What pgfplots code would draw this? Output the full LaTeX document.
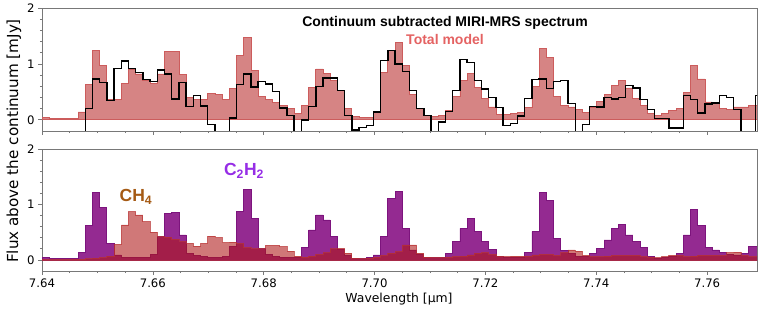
\documentclass[border=0pt]{standalone}
\usepackage{fontspec}
\setmainfont{DejaVu Sans}
\newfontfamily\helv{Liberation Sans}
\usepackage{pgfplots}
\usepackage{pgfplotstable}
\pgfplotsset{compat=1.18}
\definecolor{modelfill}{RGB}{214,132,132}
\definecolor{modeledge}{RGB}{204,92,92}
\definecolor{modeltext}{RGB}{228,98,98}
\definecolor{cpurple}{RGB}{148,42,145}
\definecolor{cpurpleedge}{RGB}{125,20,125}
\definecolor{ch4fill}{RGB}{174,22,22}
\definecolor{ch4edge}{RGB}{185,50,50}
\definecolor{ch4text}{RGB}{165,90,20}
\definecolor{c2h2text}{RGB}{150,45,230}
\definecolor{spine}{RGB}{120,120,120}

% x = left bin edge [um]; T = total model; D = data; P = C2H2; S = CH4
\pgfplotstableread{
x T D P S
7.6400 0.04 -0.5 0.04 0.005
7.6413 0.02 -0.5 0.02 0.005
7.6426 0.03 -0.5 0.03 0.005
7.6439 0.03 -0.5 0.03 0.005
7.6452 0.03 -0.5 0.03 0.01
7.6465 0.14 -0.5 0.13 0.01
7.6478 0.64 0.20 0.62 0.02
7.6491 1.24 0.73 1.22 0.03
7.6504 0.98 0.67 0.95 0.04
7.6517 0.37 0.35 0.29 0.07
7.6530 0.36 0.92 0.09 0.28
7.6543 0.65 1.05 0.04 0.63
7.6556 0.90 0.92 0.04 0.87
7.6569 0.82 0.85 0.04 0.81
7.6582 0.71 0.72 0.05 0.69
7.6595 0.65 0.69 0.10 0.50
7.6608 0.82 0.89 0.42 0.42
7.6621 1.22 0.82 0.83 0.41
7.6634 1.22 0.37 0.86 0.37
7.6647 0.81 0.67 0.45 0.33
7.6660 0.40 0.24 0.12 0.30
7.6673 0.36 0.43 0.08 0.25
7.6686 0.36 0.25 0.06 0.30
7.6699 0.47 -0.08 0.05 0.43
7.6712 0.45 -0.5 0.05 0.40
7.6725 0.36 -0.5 0.06 0.31
7.6738 0.56 0.03 0.25 0.32
7.6751 1.15 0.63 0.88 0.30
7.6764 1.47 0.82 1.27 0.22
7.6777 0.88 0.59 0.74 0.20
7.6790 0.42 0.69 0.21 0.20
7.6803 0.36 0.64 0.10 0.26
7.6816 0.31 0.51 0.06 0.26
7.6829 0.26 0.21 0.04 0.24
7.6842 0.20 0.08 0.04 0.16
7.6855 0.12 -0.5 0.05 0.07
7.6868 0.25 0.00 0.23 0.05
7.6881 0.58 0.24 0.54 0.07
7.6894 0.91 0.60 0.81 0.10
7.6907 0.83 0.75 0.72 0.13
7.6920 0.70 0.75 0.42 0.20
7.6933 0.52 0.52 0.19 0.21
7.6946 0.20 0.08 0.09 0.12
7.6959 0.06 -0.18 0.03 0.03
7.6972 0.05 -0.14 0.03 0.02
7.6985 0.05 -0.10 0.04 0.03
7.6998 0.14 0.14 0.09 0.05
7.7011 0.85 1.06 0.42 0.08
7.7024 1.24 1.24 1.11 0.12
7.7037 1.39 1.00 1.24 0.15
7.7050 0.97 0.86 0.57 0.27
7.7063 0.45 0.52 0.18 0.27
7.7076 0.20 0.20 0.10 0.12
7.7089 0.08 0.08 0.04 0.05
7.7102 0.06 -0.5 0.04 0.04
7.7115 0.08 -0.04 0.05 0.04
7.7128 0.16 0.15 0.12 0.05
7.7141 0.42 0.52 0.33 0.06
7.7154 0.70 1.08 0.57 0.07
7.7167 0.83 1.03 0.75 0.09
7.7180 0.58 0.70 0.52 0.12
7.7193 0.38 0.55 0.34 0.13
7.7206 0.23 0.40 0.19 0.10
7.7219 0.10 0.22 0.06 0.07
7.7232 0.09 -0.10 0.04 0.06
7.7245 0.11 -0.07 0.04 0.07
7.7258 0.13 0.07 0.05 0.07
7.7271 0.22 0.38 0.13 0.07
7.7284 0.60 0.72 0.51 0.09
7.7297 1.28 0.73 1.21 0.10
7.7310 1.11 0.56 1.07 0.10
7.7323 0.42 0.68 0.38 0.08
7.7336 0.25 0.70 0.17 0.13
7.7349 0.23 0.29 0.11 0.18
7.7362 0.19 -0.5 0.07 0.16
7.7375 0.13 -0.08 0.06 0.08
7.7388 0.23 0.24 0.12 0.06
7.7401 0.33 0.23 0.21 0.06
7.7414 0.45 0.40 0.36 0.07
7.7427 0.62 0.37 0.56 0.08
7.7440 0.70 0.40 0.64 0.08
7.7453 0.57 0.61 0.45 0.08
7.7466 0.38 0.57 0.33 0.08
7.7479 0.26 0.36 0.22 0.06
7.7492 0.12 0.18 0.06 0.05
7.7505 0.08 0.02 0.03 0.04
7.7518 0.11 0.02 0.04 0.06
7.7531 0.16 -0.15 0.06 0.08
7.7544 0.20 -0.15 0.12 0.08
7.7557 0.49 0.43 0.45 0.06
7.7570 0.98 0.36 0.91 0.07
7.7583 0.73 0.12 0.62 0.08
7.7596 0.32 0.28 0.23 0.08
7.7609 0.29 0.30 0.18 0.08
7.7622 0.20 0.43 0.13 0.08
7.7635 0.19 0.40 0.10 0.13
7.7648 0.23 0.18 0.09 0.14
7.7661 0.23 -0.5 0.12 0.08
7.7674 0.26 -0.5 0.24 0.06
7.7687 0.26 0.44 0.24 0.06
7.7700 0.26 0.44 0.24 0.06
}\spec

\pgfplotsset{
  panel/.style={
    scale only axis, width=715pt,
    xmin=7.64, xmax=7.769, ymin=-0.2, ymax=2,
    xtick={7.64,7.66,7.68,7.70,7.72,7.74,7.76},
    minor x tick num=3,
    ytick={0,1,2}, minor y tick num=4,
    tick align=outside, xtick pos=left, ytick pos=left,
    axis line style={spine, line width=0.9pt},
    major tick length=4pt, minor tick length=2.2pt,
    every tick/.style={spine, line width=0.7pt},
    tick label style={font=\fontsize{11.7}{12}\selectfont},
    /pgf/number format/assume math mode=true,
    xticklabel style={/pgf/number format/.cd, fixed, fixed zerofill, precision=2},
  }
}

\begin{document}
\begin{tikzpicture}
\useasboundingbox (0pt,0pt) rectangle (763pt,312pt);

\begin{axis}[panel, at={(42pt,181pt)}, anchor=south west, height=123pt, xticklabels={}]
\addplot[const plot, fill=modelfill, draw=modeledge, line width=0.8pt] table[x=x,y=T]{\spec} \closedcycle;
\addplot[const plot, black, line width=1.4pt] table[x=x,y=D]{\spec};
\end{axis}

\begin{axis}[panel, at={(42pt,41pt)}, anchor=south west, height=122pt]
\addplot[const plot, fill=cpurple, draw=cpurpleedge, line width=0.8pt] table[x=x,y=P]{\spec} \closedcycle;
\addplot[const plot, fill=ch4fill, fill opacity=0.58, draw=ch4edge, draw opacity=0.7, line width=0.8pt] table[x=x,y=S]{\spec} \closedcycle;
\end{axis}

\node[rotate=90, font=\fontsize{15.2}{16}\selectfont] at (14pt,171pt) {Flux above the continuum [mJy]};
\node[font=\fontsize{12.4}{13}\selectfont] at (399pt,13pt) {Wavelength [µm]};
\node[font=\helv\bfseries\fontsize{14}{15}\selectfont] at (445pt,289.3pt) {Continuum subtracted MIRI-MRS spectrum};
\node[font=\helv\bfseries\fontsize{14}{15}\selectfont, text=modeltext] at (445pt,272.5pt) {Total model};
\node[font=\helv\bfseries\fontsize{17.5}{18}\selectfont, text=ch4text] at (136pt,115.3pt) {CH\textsubscript{4}};
\node[font=\helv\bfseries\fontsize{17.5}{18}\selectfont, text=c2h2text] at (244pt,141pt) {C\textsubscript{2}H\textsubscript{2}};
\end{tikzpicture}
\end{document}
